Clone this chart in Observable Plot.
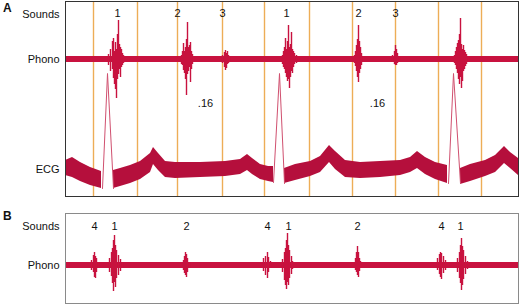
<!DOCTYPE html>
<html><head><meta charset="utf-8">
<script src="https://cdn.jsdelivr.net/npm/d3@7"></script>
<script src="https://cdn.jsdelivr.net/npm/@observablehq/plot@0.6"></script>
<style>
body{margin:0;background:#fff;font-family:"Liberation Sans",Arial,sans-serif;}
#wrap{position:relative;width:520px;height:305px;overflow:hidden;background:#fff;}
.panel{position:absolute;left:0;}
.letter{position:absolute;font-weight:bold;font-size:12px;color:#111;}
</style></head><body>
<div id="wrap">
<div id="a" class="panel" style="top:0"></div>
<div id="b" class="panel" style="top:211px"></div>
<div class="letter" style="left:3px;top:1px">A</div>
<div class="letter" style="left:3px;top:209px">B</div>
</div>
<script>
// ---- time markers (orange lines), panel A ----
const markerTimes = [28, 72, 112, 157, 199, 244, 287, 330, 373, 416];

// ---- sound labels ----
const soundLabelsA = ["1", "2", "3", "1", "2", "3"];
const soundTimesA  = [52, 112, 157, 221, 293, 330];
const intervalLabels = [".16", ".16"];
const intervalTimes  = [140, 312];
const soundLabelsB = ["4", "1", "2", "4", "1", "2", "4", "1"];
const soundTimesB  = [29, 49, 121, 202, 223, 292, 376, 395];

// ---- phonocardiogram A: [t, up, down] deflections ----
const phonoA_S1a = [[43,5,-6],[45,10,-12],[47,18,-10],[48,21,-19],[49,8,-25],[50,17,-30],[51,10,-39],[52,25,-20],[53,39,-15],[54,15,-10],[55,12,-18],[56,10,-8],[57,6,-6],[58,4,-4]];
const phonoA_S2a = [[116,4,-5],[117,8,-6],[118,16,-11],[119,8,-14],[120,12,-20],[121,20,-36],[122,37,-15],[123,12,-12],[124,14,-8],[125,17,-23],[126,8,-10],[127,5,-5],[128,3,-3]];
const phonoA_S3a = [[157,4,-4],[159,7,-8],[160,9,-11],[161,6,-9],[162,8,-5],[163,4,-4],[164,3,-3]];
const phonoA_S1b = [[217,4,-5],[218,8,-8],[219,12,-10],[220,21,-14],[221,10,-18],[222,18,-22],[223,34,-20],[224,12,-29],[225,15,-18],[226,27,-12],[227,10,-14],[228,8,-8],[229,6,-5],[231,4,-4]];
const phonoA_S2b = [[289,4,-4],[290,8,-7],[291,14,-12],[292,20,-18],[293,34,-23],[294,18,-14],[295,12,-10],[296,6,-6],[298,3,-3]];
const phonoA_S3b = [[327,4,-3],[329,8,-5],[330,14,-6],[331,10,-6],[332,6,-4],[334,3,-3]];
const phonoA_S1c = [[389,4,-4],[390,8,-6],[391,12,-10],[392,16,-14],[393,19,-20],[394,25,-25],[395,41,-18],[396,15,-29],[397,10,-22],[398,14,-12],[399,9,-10],[400,7,-7],[401,5,-5],[403,3,-3]];

// ---- phonocardiogram B ----
const phonoB_S4a = [[26,5,-5],[28,10,-7],[29,13,-12],[30,9,-13],[31,7,-7],[33,3,-3]];
const phonoB_S1a = [[44,7,-7],[46,13,-11],[47,17,-18],[48,25,-26],[49,30,-17],[50,20,-22],[51,15,-13],[53,10,-10],[55,6,-6],[57,3,-3]];
const phonoB_S2a = [[118,5,-5],[119,9,-8],[120,13,-10],[121,11,-12],[122,7,-7],[124,3,-3]];
const phonoB_S4b = [[198,7,-6],[200,9,-10],[202,13,-13],[203,8,-7],[205,4,-3]];
const phonoB_S1b = [[217,6,-7],[219,13,-15],[220,17,-20],[221,25,-24],[222,32,-17],[223,20,-20],[224,15,-13],[226,9,-9],[227,4,-4]];
const phonoB_S2b = [[290,7,-5],[291,13,-7],[292,19,-10],[293,13,-12],[294,7,-6],[295,4,-3]];
const phonoB_S4c = [[372,7,-5],[374,11,-9],[375,13,-12],[376,12,-14],[378,9,-8],[380,5,-5]];
const phonoB_S1c = [[392,7,-7],[394,13,-13],[395,20,-18],[396,27,-25],[397,19,-20],[398,15,-14],[400,9,-9],[402,4,-4]];

// phono baseline noise band [t, hi, lo]
const phonoBase = [[0,3,-3],[453,3,-3]];

// ---- ECG: [t, top, bottom] (height above trace floor) ----
const ecgSeg1 = [[0,36,21],[7,39,19],[15,34,15],[25,29,11],[36,25,8]];
const ecgSeg2 = [[48,26,8],[55,28,10],[65,31,13],[75,35,17],[85,43,24],[88,49,32],[93,43,26],[100,35,19],[110,34,18],[135,34,19],[160,35,20],[175,37,22],[182,42,26],[187,38,22],[195,32,17],[203,30,15],[208,30,14]];
const ecgSeg3 = [[219,28,13],[230,32,16],[245,35,20],[255,40,24],[264,51,34],[270,45,27],[280,36,19],[295,34,18],[315,35,19],[335,36,21],[345,39,24],[352,45,28],[360,39,22],[370,34,17],[382,31,13]];
const ecgSeg4 = [[395,28,12],[405,32,15],[420,36,20],[430,41,24],[439,50,33],[445,44,28],[453,38,21]];
// R waves [t, height]
const rWave1 = [[37,8],[42,123],[48,8]];
const rWave2 = [[208,14],[214,123],[219,13]];
const rWave3 = [[383,13],[388,123],[395,13]];

// ---- build tables ----
const toSpikes = arrs => arrs.flatMap(a => a.map(([t, up, down]) => ({t, up, down})));
const spikesA = toSpikes([phonoA_S1a, phonoA_S2a, phonoA_S3a, phonoA_S1b, phonoA_S2b, phonoA_S3b, phonoA_S1c]);
const spikesB = toSpikes([phonoB_S4a, phonoB_S1a, phonoB_S2a, phonoB_S4b, phonoB_S1b, phonoB_S2b, phonoB_S4c, phonoB_S1c]);
const base = phonoBase.map(([t, hi, lo]) => ({t, hi, lo}));
const ECG_FLOOR = -137;
const ecg = [ecgSeg1, ecgSeg2, ecgSeg3, ecgSeg4].flatMap((s, i) => s.map(([t, top, bot]) => ({seg: i, t, top: top + ECG_FLOOR, bot: bot + ECG_FLOOR})));
const rw = [rWave1, rWave2, rWave3].flatMap((s, i) => s.map(([t, e]) => ({beat: i, t, y: e + ECG_FLOOR})));
const labA = soundLabelsA.map((s, i) => ({s, t: soundTimesA[i]}));
const labI = intervalLabels.map((s, i) => ({s, t: intervalTimes[i]}));
const labB = soundLabelsB.map((s, i) => ({s, t: soundTimesB[i]}));

const PHONO = "#c8123f";
const ECGC = "#b50f3c";
const FONT = "Liberation Sans, Arial, sans-serif";

const rowLabel = (text, y) => Plot.text([text], {x: -6, y, text: d => d, textAnchor: "end", fontSize: 11, fill: "#111"});

const plotA = Plot.plot({
  width: 520, height: 198,
  marginLeft: 65, marginRight: 2, marginTop: 1, marginBottom: 2,
  x: {domain: [0, 453], axis: null},
  y: {domain: [-137, 58], axis: null},
  style: {fontFamily: FONT, background: "transparent", overflow: "visible"},
  marks: [
    Plot.ruleX(markerTimes, {stroke: "#eba445", strokeWidth: 1.4, strokeOpacity: 0.9}),
    Plot.areaY(base, {x: "t", y1: "lo", y2: "hi", fill: PHONO}),
    Plot.ruleX(spikesA, {x: "t", y1: "down", y2: "up", stroke: PHONO, strokeWidth: 1.4}),
    Plot.areaY(ecg, {x: "t", y1: "bot", y2: "top", z: "seg", fill: ECGC}),
    Plot.line(rw, {x: "t", y: "y", z: "beat", stroke: "#d0506f", strokeWidth: 1}),
    Plot.text(labA, {x: "t", y: 46, text: "s", fontSize: 11, fill: "#111"}),
    Plot.text(labI, {x: "t", y: -44, text: "s", fontSize: 11, fill: "#111"}),
    rowLabel("Sounds", 45),
    rowLabel("Phono", 0),
    rowLabel("ECG", -110),
    Plot.frame({stroke: "#333", strokeWidth: 1})
  ]
});
document.getElementById("a").appendChild(plotA);

const plotB = Plot.plot({
  width: 520, height: 94,
  marginLeft: 65, marginRight: 2, marginTop: 2, marginBottom: 2,
  x: {domain: [0, 453], axis: null},
  y: {domain: [-38, 52], axis: null},
  style: {fontFamily: FONT, background: "transparent", overflow: "visible"},
  marks: [
    Plot.areaY(base, {x: "t", y1: "lo", y2: "hi", fill: PHONO}),
    Plot.ruleX(spikesB, {x: "t", y1: "down", y2: "up", stroke: PHONO, strokeWidth: 1.4}),
    Plot.text(labB, {x: "t", y: 39, text: "s", fontSize: 11, fill: "#111"}),
    rowLabel("Sounds", 39),
    rowLabel("Phono", 0),
    Plot.frame({stroke: "#8a8a8a", strokeWidth: 1})
  ]
});
document.getElementById("b").appendChild(plotB);
</script>
</body></html>
